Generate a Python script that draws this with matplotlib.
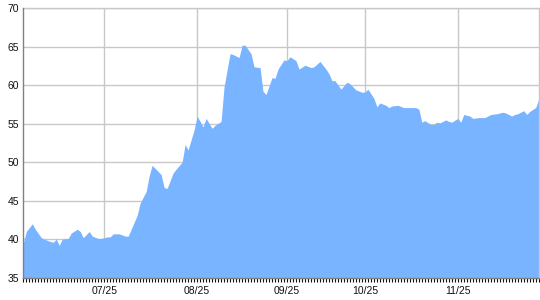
import matplotlib
matplotlib.use("Agg")
import matplotlib.pyplot as plt
from matplotlib.ticker import MultipleLocator

# trading-day index and value
days = [0, 1, 3, 4, 6, 7, 9, 10, 11, 12, 13, 15, 16, 18, 19, 20, 22, 23, 25, 26,
        28, 29, 30, 32, 34, 35, 36, 38, 39, 41, 42, 43, 45, 46, 47, 48, 50, 51, 53, 54,
        55, 57, 58, 60, 61, 63, 64, 66, 67, 69, 70, 72, 73, 74, 76, 77, 79, 80, 81, 83,
        84, 85, 87, 88, 89, 91, 92, 94, 96, 97, 99, 101, 102, 103, 104, 106, 108, 109, 111, 113,
        114, 115, 117, 118, 119, 121, 122, 123, 125, 127, 129, 131, 132, 133, 134, 136, 137, 138, 139, 141,
        142, 143, 145, 146, 147, 149, 150, 152, 154, 156, 158, 160, 161, 163, 164, 165, 167, 168, 169, 171,
        172]
values = [39.5, 41.0, 42.0, 41.3, 40.2, 40.0, 39.7, 39.6, 40.0, 39.2, 40.0, 40.1, 40.8, 41.3, 41.0, 40.2, 41.0, 40.4, 40.1, 40.1,
          40.3, 40.3, 40.7, 40.7, 40.4, 40.4, 41.3, 43.1, 44.7, 46.2, 48.2, 49.6, 48.8, 48.4, 46.7, 46.6, 48.6, 49.1, 50.0, 52.3,
          51.6, 54.2, 56.0, 54.6, 55.7, 54.4, 54.8, 55.3, 59.8, 64.1, 64.0, 63.6, 65.2, 65.2, 64.1, 62.4, 62.3, 59.2, 58.8, 61.0,
          60.9, 62.1, 63.3, 63.2, 63.7, 63.2, 62.1, 62.6, 62.3, 62.4, 63.1, 62.1, 61.5, 60.6, 60.6, 59.5, 60.4, 60.2, 59.4, 59.1,
          59.1, 59.5, 58.3, 57.2, 57.7, 57.4, 57.1, 57.3, 57.4, 57.1, 57.1, 57.1, 56.9, 55.2, 55.4, 54.9, 54.9, 55.2, 55.1, 55.5,
          55.3, 55.2, 55.7, 55.2, 56.2, 56.0, 55.7, 55.8, 55.8, 56.2, 56.3, 56.5, 56.4, 56.0, 56.2, 56.3, 56.7, 56.2, 56.6, 57.1,
          58.2]

month_pos = [27, 58, 88, 114, 145]
month_labels = ["07/25", "08/25", "09/25", "10/25", "11/25"]
y_ticks = [35, 40, 45, 50, 55, 60, 65, 70]

plt.rcParams['font.family'] = ['Liberation Sans', 'DejaVu Sans']

fig = plt.figure(figsize=(5.4, 3.0), dpi=100)
ax = fig.add_axes([23.3 / 540, 22.3 / 300, (538.7 - 23.3) / 540, (277.7 - 8.3) / 300])

ax.fill_between(days, values, 35, color='#78b4ff', linewidth=0, zorder=2)

ax.set_xlim(0, 172)
ax.set_ylim(35, 70)
ax.set_yticks(y_ticks)
ax.set_xticks(month_pos)
ax.set_xticklabels(month_labels)
ax.xaxis.set_minor_locator(MultipleLocator(1))

ax.grid(True, which='major', color='#c8c8c8', linewidth=1.0, zorder=1)
ax.set_axisbelow(True)

ax.tick_params(axis='y', length=0, pad=3, labelsize=7.5, colors='#111111')
ax.tick_params(axis='x', which='major', length=3, width=0.8, pad=3, labelsize=7.5, colors='#111111')
ax.tick_params(axis='x', which='minor', length=3, width=0.8, color='#111111')

for s in ['top', 'right']:
    ax.spines[s].set_color('#c8c8c8')
    ax.spines[s].set_linewidth(1.0)
ax.spines['left'].set_color('#808080')
ax.spines['left'].set_linewidth(1.0)
ax.spines['bottom'].set_color('#808080')
ax.spines['bottom'].set_linewidth(1.0)
ax.spines['left'].set_zorder(3)
ax.spines['bottom'].set_zorder(3)

fig.savefig('out.png', dpi=100)
